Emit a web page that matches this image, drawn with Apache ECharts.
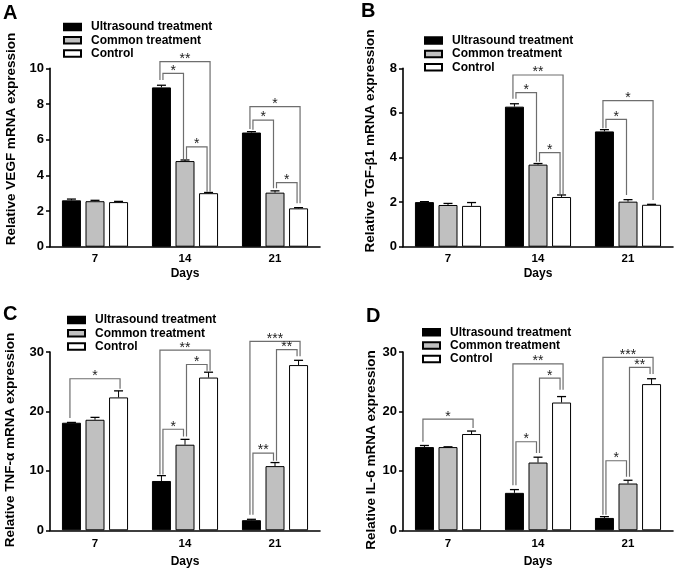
<!DOCTYPE html>
<html>
<head>
<meta charset="utf-8">
<script src="https://cdn.jsdelivr.net/npm/echarts@6/dist/echarts.min.js"></script>
<style>html,body{margin:0;padding:0;background:#fff}#c{width:677px;height:574px}</style>
</head>
<body>
<div id="c"></div>
<script>
// ---------- data ----------
const days = ['7', '14', '21'];
const groupNames = ['Ultrasound treatment', 'Common treatment', 'Control'];

// Panel A: VEGF
const vegfUltra = [2.6, 8.93, 6.4];
const vegfCommon = [2.55, 4.8, 3.03];
const vegfControl = [2.5, 3.0, 2.15];
const vegfUltraErr = [0.07, 0.12, 0.05];
const vegfCommonErr = [0.05, 0.06, 0.1];
const vegfControlErr = [0.04, 0.04, 0.04];

// Panel B: TGF-β1
const tgfUltra = [2.0, 6.28, 5.17];
const tgfCommon = [1.87, 3.68, 2.02];
const tgfControl = [1.83, 2.23, 1.88];
const tgfUltraErr = [0.02, 0.13, 0.08];
const tgfCommonErr = [0.07, 0.05, 0.09];
const tgfControlErr = [0.15, 0.09, 0.02];

// Panel C: TNF-α
const tnfUltra = [18.1, 8.3, 1.7];
const tnfCommon = [18.6, 14.4, 10.8];
const tnfControl = [22.36, 25.7, 27.8];
const tnfUltraErr = [0.05, 0.9, 0.15];
const tnfCommonErr = [0.4, 0.9, 0.6];
const tnfControlErr = [1.1, 0.9, 0.8];

// Panel D: IL-6
const il6Ultra = [14.0, 6.3, 2.08];
const il6Common = [14.0, 11.4, 7.87];
const il6Control = [16.2, 21.5, 24.6];
const il6UltraErr = [0.27, 0.55, 0.22];
const il6CommonErr = [0.05, 0.9, 0.55];
const il6ControlErr = [0.5, 1.0, 0.9];

// significance brackets: [day index, from group, to group, bracket level, left leg end, right leg end, mark]
const vegfSig = [
  [1, 0, 1, 9.72, 9.34, 4.9, '*'],
  [1, 0, 2, 10.37, 9.34, 3.08, '**'],
  [1, 1, 2, 5.59, 4.9, 3.08, '*'],
  [2, 0, 1, 7.1, 6.55, 3.27, '*'],
  [2, 0, 2, 7.85, 6.6, 2.43, '*'],
  [2, 1, 2, 3.59, 3.27, 2.43, '*']
];
const tgfSig = [
  [1, 0, 1, 6.91, 6.64, 3.81, '*'],
  [1, 0, 2, 7.7, 6.64, 2.35, '**'],
  [1, 1, 2, 4.22, 3.81, 2.35, '*'],
  [2, 0, 1, 5.71, 5.31, 2.32, '*'],
  [2, 0, 2, 6.55, 5.31, 2.09, '*']
];
const tnfSig = [
  [0, 0, 2, 25.5, 18.9, 23.8, '*'],
  [1, 0, 1, 17.0, 9.4, 15.8, '*'],
  [1, 0, 2, 30.3, 9.4, 26.85, '**'],
  [1, 1, 2, 27.9, 15.8, 26.85, '*'],
  [2, 0, 1, 13.0, 2.6, 11.7, '**'],
  [2, 0, 2, 31.8, 2.6, 29.3, '***'],
  [2, 1, 2, 30.4, 11.7, 29.3, '**']
];
const il6Sig = [
  [0, 0, 2, 18.7, 14.9, 17.2, '*'],
  [1, 0, 1, 14.9, 7.6, 13.0, '*'],
  [1, 0, 2, 28.0, 7.6, 23.65, '**'],
  [1, 1, 2, 25.6, 13.0, 23.65, '*'],
  [2, 0, 1, 11.7, 2.6, 9.0, '*'],
  [2, 0, 2, 29.1, 2.6, 26.3, '***'],
  [2, 1, 2, 27.4, 9.0, 26.3, '**']
];

// ---------- styles ----------
const FONT = '"Liberation Sans", Arial, sans-serif';
const BAR_W = 19;
const BAR_GAP = 0.24;
const BAR_STEP = BAR_W * (1 + BAR_GAP);
const fills = ['#000000', '#c0c0c0', '#ffffff'];

const panels = [
  { vals: [vegfUltra, vegfCommon, vegfControl], errs: [vegfUltraErr, vegfCommonErr, vegfControlErr], sig: vegfSig,
    max: 10, interval: 2, grid: { left: 50, top: 68.3, width: 270, height: 178.4 }, nameGap: 21, labelMargin: 6,
    legend: { left: 63, top: 20.5 } },
  { vals: [tgfUltra, tgfCommon, tgfControl], errs: [tgfUltraErr, tgfCommonErr, tgfControlErr], sig: tgfSig,
    max: 8, interval: 2, grid: { left: 403, top: 68.3, width: 270, height: 178.4 }, nameGap: 21, labelMargin: 6,
    legend: { left: 424, top: 34.1 } },
  { vals: [tnfUltra, tnfCommon, tnfControl], errs: [tnfUltraErr, tnfCommonErr, tnfControlErr], sig: tnfSig,
    max: 30, interval: 10, grid: { left: 50, top: 352, width: 270, height: 178.3 }, nameGap: 25, labelMargin: 8,
    legend: { left: 67, top: 313.4 } },
  { vals: [il6Ultra, il6Common, il6Control], errs: [il6UltraErr, il6CommonErr, il6ControlErr], sig: il6Sig,
    max: 30, interval: 10, grid: { left: 403, top: 352, width: 270, height: 178.3 }, nameGap: 25, labelMargin: 8,
    legend: { left: 422, top: 325.8 } }
];

function errRender(params, api) {
  const cat = api.value(0), g = api.value(1), v = api.value(2), e = api.value(3);
  const p0 = api.coord([cat, v]);
  const p1 = api.coord([cat, v + e]);
  const x = p0[0] + (g - 1) * BAR_STEP;
  return {
    type: 'group',
    children: [
      { type: 'line', shape: { x1: x, y1: p0[1], x2: x, y2: p1[1] }, style: { stroke: '#000', lineWidth: 1 } },
      { type: 'line', shape: { x1: x - 4.5, y1: p1[1], x2: x + 4.5, y2: p1[1] }, style: { stroke: '#000', lineWidth: 1.3 } }
    ]
  };
}

function makeSigRender(list) {
  return function (params, api) {
    const b = list[params.dataIndex];
    const cat = b[0], from = b[1], to = b[2];
    const span = to - from;
    const c = api.coord([cat, b[3]]);
    const yl = c[1];
    const yLeft = api.coord([cat, b[4]])[1];
    const yRight = api.coord([cat, b[5]])[1];
    const xl = c[0] + (from - 1) * BAR_STEP + (span === 2 ? -1.5 : 1.5);
    const xr = c[0] + (to - 1) * BAR_STEP + (span === 2 ? 1.5 : -1.5);
    return {
      type: 'group',
      children: [
        { type: 'polyline', shape: { points: [[xl, yLeft], [xl, yl], [xr, yl], [xr, yRight]] },
          style: { stroke: '#6e6e6e', lineWidth: 1.2, fill: null } },
        { type: 'text', style: { text: b[6], x: (xl + xr) / 2, y: yl - 2.5, textAlign: 'center',
          textVerticalAlign: 'middle', font: '14px ' + FONT, fill: '#222' } }
      ]
    };
  };
}

const option = {
  animation: false,
  backgroundColor: '#fff',
  grid: [], xAxis: [], yAxis: [], legend: [], series: [],
  graphic: []
};

panels.forEach((p, k) => {
  option.grid.push(Object.assign({ containLabel: false }, p.grid));
  option.xAxis.push({
    type: 'category', gridIndex: k, data: days,
    name: 'Days', nameLocation: 'middle', nameGap: p.nameGap,
    nameTextStyle: { fontFamily: FONT, fontWeight: 'bold', fontSize: 12, color: '#000' },
    axisLine: { lineStyle: { color: '#000', width: 1.6 } },
    axisTick: { alignWithLabel: true, length: 4, lineStyle: { color: '#000', width: 1.5 } },
    axisLabel: { fontFamily: FONT, fontWeight: 'bold', fontSize: 11.5, color: '#000', margin: p.labelMargin },
    splitLine: { show: false }
  });
  option.yAxis.push({
    type: 'value', gridIndex: k, min: 0, max: p.max, interval: p.interval,
    axisLine: { show: true, lineStyle: { color: '#000', width: 1.6 } },
    axisTick: { show: true, length: 4, lineStyle: { color: '#000', width: 1.5 } },
    axisLabel: { fontFamily: FONT, fontWeight: 'bold', fontSize: 13, color: '#000', margin: 6 },
    splitLine: { show: false }
  });
  option.legend.push({
    orient: 'vertical', left: p.legend.left, top: p.legend.top, padding: 0,
    itemWidth: 17, itemHeight: 6.5, itemGap: 0.3,
    icon: 'rect', data: groupNames,
    selectedMode: false,
    textStyle: { fontFamily: FONT, fontWeight: 'bold', fontSize: 12, color: '#000', lineHeight: 13, padding: [0, 0, 0, 5] }
  });
  p.vals.forEach((v, g) => {
    option.series.push({
      name: groupNames[g], type: 'bar', xAxisIndex: k, yAxisIndex: k,
      data: v, barWidth: BAR_W, barGap: (BAR_GAP * 100) + '%', z: 2,
      itemStyle: { color: fills[g], borderColor: '#000', borderWidth: 1 }
    });
  });
  const errData = [];
  p.errs.forEach((e, g) => e.forEach((ev, i) => errData.push([i, g, p.vals[g][i], ev])));
  option.series.push({
    name: 'err' + k, type: 'custom', xAxisIndex: k, yAxisIndex: k, z: 3, clip: false,
    encode: { x: 0, y: 2 }, renderItem: errRender, data: errData
  });
  option.series.push({
    name: 'sig' + k, type: 'custom', xAxisIndex: k, yAxisIndex: k, z: 3, clip: false,
    encode: { x: 0, y: 3 }, renderItem: makeSigRender(p.sig), data: p.sig.map(b => b.slice(0, 6))
  });
});

const titles = [
  ['A', 3, 14, 'Relative VEGF mRNA expression', 11, 139],
  ['B', 361, 12, 'Relative TGF-β1 mRNA expression', 370, 141],
  ['C', 3, 315, 'Relative TNF-α mRNA expression', 10.5, 440],
  ['D', 366, 317, 'Relative IL-6 mRNA expression', 371, 450]
];
titles.forEach(t => {
  option.graphic.push({ type: 'text', left: t[1], top: t[2] - 10.5,
    style: { text: t[0], font: 'bold 20px ' + FONT, fill: '#000' } });
  option.graphic.push({ type: 'text', x: t[4], y: t[5], rotation: Math.PI / 2,
    style: { text: t[3], font: 'bold 13.5px ' + FONT, fill: '#000', textAlign: 'center', textVerticalAlign: 'middle' } });
});

const chart = echarts.init(document.getElementById('c'), null, { renderer: 'canvas' });
chart.setOption(option);
</script>
</body>
</html>
